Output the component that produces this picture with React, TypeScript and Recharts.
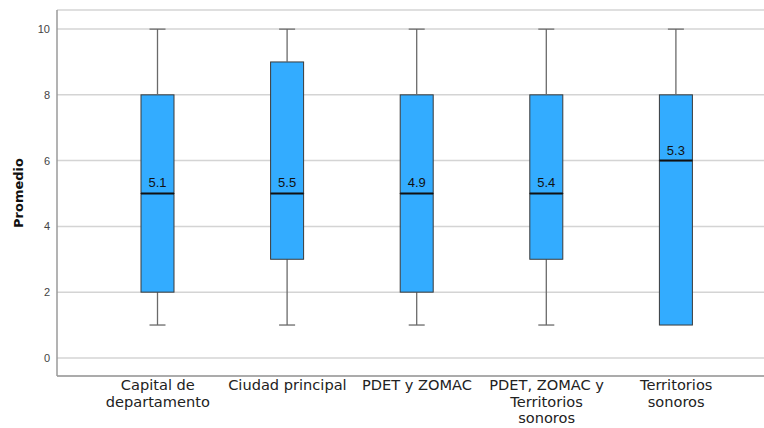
import { Bar, CartesianGrid, ComposedChart, XAxis, YAxis } from "recharts";

const categories = [
  "Capital de departamento",
  "Ciudad principal",
  "PDET y ZOMAC",
  "PDET, ZOMAC y Territorios sonoros",
  "Territorios sonoros",
];
const tickLines = [
  ["Capital de", "departamento"],
  ["Ciudad principal"],
  ["PDET y ZOMAC"],
  ["PDET, ZOMAC y", "Territorios", "sonoros"],
  ["Territorios", "sonoros"],
];
const mins = [1, 1, 1, 1, 1];
const q1s = [2, 3, 2, 3, 1];
const medians = [5, 5, 5, 5, 6];
const q3s = [8, 9, 8, 8, 8];
const maxs = [10, 10, 10, 10, 10];
const means = [5.1, 5.5, 4.9, 5.4, 5.3];
const yTicks = [0, 2, 4, 6, 8, 10];

const data = categories.map((name, i) => ({
  name,
  base: mins[i],
  lowWhisker: q1s[i] - mins[i],
  lowBox: medians[i] - q1s[i],
  upBox: q3s[i] - medians[i],
  upWhisker: maxs[i] - q3s[i],
  mean: means[i],
}));

const BOX = "#33acff";
const BOX_EDGE = "#3a3a3a";
const WHISKER = "#6a6a6a";
const FONT = "'Liberation Sans', Arial, sans-serif";
const LABEL_FONT = "'DejaVu Sans', Verdana, sans-serif";

const Empty = () => <g />;

// whisker: vertical stem plus a short cap at the outer end
const WhiskerShape = (top: boolean) => (props: any) => {
  const { x, y, width, height } = props;
  if (!height || height <= 0) return <g />;
  const cx = x + width / 2;
  const capY = top ? y : y + height;
  return (
    <g>
      <line x1={cx} x2={cx} y1={y} y2={y + height} stroke={WHISKER} strokeWidth={1.3} />
      <line x1={cx - 8} x2={cx + 8} y1={capY} y2={capY} stroke={WHISKER} strokeWidth={1.3} />
    </g>
  );
};

const LowBoxShape = (props: any) => {
  const { x, y, width, height } = props;
  if (!height || height <= 0) return <g />;
  return (
    <rect x={x} y={y} width={width} height={height} fill={BOX} stroke={BOX_EDGE} strokeWidth={1} />
  );
};

// upper half of the box, median line and mean label on top of it
const UpBoxShape = (props: any) => {
  const { x, y, width, height, payload } = props;
  const medY = y + height;
  return (
    <g>
      {height > 0 && (
        <rect x={x} y={y} width={width} height={height} fill={BOX} stroke={BOX_EDGE} strokeWidth={1} />
      )}
      <line x1={x} x2={x + width} y1={medY} y2={medY} stroke="#111" strokeWidth={2} />
      <text
        x={x + width / 2}
        y={medY - 6}
        textAnchor="middle"
        fontSize={13}
        fontFamily={FONT}
        fill="#111"
      >
        {payload.mean.toFixed(1)}
      </text>
    </g>
  );
};

function CategoryTick(props: any) {
  const { x, y, index } = props;
  const lines = tickLines[index] || [];
  return (
    <text x={x} y={y} textAnchor="middle" fontSize={14.6} fontFamily={LABEL_FONT} fill="#222">
      {lines.map((line, i) => (
        <tspan key={line} x={x} dy={i === 0 ? 12 : 16.5}>
          {line}
        </tspan>
      ))}
    </text>
  );
}

export default function App() {
  return (
    <div style={{ position: "absolute", left: 0, top: 0, background: "#fff" }}>
      <ComposedChart
        width={764}
        height={428}
        data={data}
        margin={{ top: 10, right: 0, bottom: 0, left: 0 }}
        barSize={33}
      >
        <CartesianGrid vertical={false} stroke="#d4d4d4" strokeWidth={1.5} />
        <XAxis
          dataKey="name"
          height={52}
          padding={{ left: 36, right: 23 }}
          tickLine={false}
          tickSize={0}
          tickMargin={2}
          axisLine={{ stroke: "#9a9a9a", strokeWidth: 1.5 }}
          tick={<CategoryTick />}
          interval={0}
        />
        <YAxis
          width={57}
          domain={[-0.55, 10.58]}
          ticks={yTicks}
          allowDataOverflow
          tickLine={false}
          tickSize={0}
          tickMargin={7}
          axisLine={{ stroke: "#9a9a9a", strokeWidth: 1.5 }}
          tick={{ fontSize: 11, fill: "#444", fontFamily: FONT }}
          label={{
            value: "Promedio",
            angle: -90,
            position: "center",
            dx: -10,
            style: { fontSize: 13, fontWeight: "bold", fill: "#111", fontFamily: LABEL_FONT },
          }}
        />
        <Bar dataKey="base" stackId="b" shape={Empty} isAnimationActive={false} />
        <Bar dataKey="lowWhisker" stackId="b" shape={WhiskerShape(false)} isAnimationActive={false} />
        <Bar dataKey="lowBox" stackId="b" shape={LowBoxShape} isAnimationActive={false} />
        <Bar dataKey="upBox" stackId="b" shape={UpBoxShape} isAnimationActive={false} />
        <Bar dataKey="upWhisker" stackId="b" shape={WhiskerShape(true)} isAnimationActive={false} />
      </ComposedChart>
    </div>
  );
}
